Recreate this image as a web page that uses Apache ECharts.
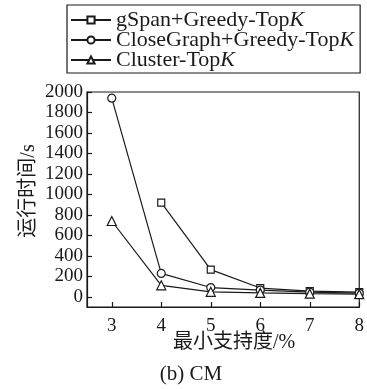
<!DOCTYPE html>
<html>
<head>
<meta charset="utf-8">
<script src="https://cdn.jsdelivr.net/npm/echarts@6/dist/echarts.min.js"></script>
<style>
  html, body { margin: 0; padding: 0; background: #fff; }
  #chart { width: 367px; height: 389px; }
</style>
</head>
<body>
<div id="chart"></div>
<script>
// Minimum support (%) on the x axis
const supports = [3, 4, 5, 6, 7, 8];
// Running time (s) of each method
const gspanGreedy = [null, 920, 265, 85, 55, 45];
const closeGraphGreedy = [1940, 228, 90, 65, 45, 35];
const clusterTopK = [740, 112, 48, 38, 30, 25];
const yTicks = [0, 200, 400, 600, 800, 1000, 1200, 1400, 1600, 1800, 2000];
const seriesNames = ['gSpan+Greedy-TopK', 'CloseGraph+Greedy-TopK', 'Cluster-TopK'];

const FONT = '"Liberation Serif", "DejaVu Serif", "Noto Sans CJK SC", serif';
const INK = '#1a1a1a';

const pairs = vals => supports.map((s, i) => [s, vals[i]]);

function lineSeries(name, vals, symbol, size) {
  return {
    name: name,
    type: 'line',
    data: pairs(vals),
    symbol: symbol,
    symbolSize: size,
    showAllSymbol: true,
    lineStyle: { color: INK, width: 1.2 },
    itemStyle: { color: '#fff', borderColor: INK, borderWidth: 1.2 },
    emphasis: { disabled: true },
    connectNulls: false,
    animation: false
  };
}

const chart = echarts.init(document.getElementById('chart'), null, { renderer: 'canvas' });

chart.setOption({
  backgroundColor: '#fff',
  animation: false,
  grid: { left: 87, top: 92, right: 4, bottom: 82, containLabel: false,
          show: true, borderColor: INK, borderWidth: 1.2 },
  legend: {
    orient: 'vertical',
    left: 67,
    top: 5,
    padding: [4, 6, 2, 3],
    itemGap: -2,
    itemWidth: 40,
    itemHeight: 9,
    borderColor: INK,
    borderWidth: 1.2,
    data: seriesNames,
    formatter: n => '{r|' + n.replace(/K$/, '') + '}{k|K}',
    textStyle: {
      rich: {
        r: { fontFamily: FONT, fontSize: 22, lineHeight: 20, color: INK },
        k: { fontFamily: FONT, fontSize: 22, lineHeight: 20, color: INK, fontStyle: 'italic' }
      }
    }
  },
  xAxis: {
    type: 'value',
    min: 2.5,
    max: 8,
    axisLine: { show: true, onZero: false, lineStyle: { color: INK, width: 1.2 } },
    axisTick: { show: true, inside: true, length: 5, customValues: supports,
                lineStyle: { color: INK, width: 1.2 } },
    axisLabel: { customValues: supports, fontFamily: FONT, fontSize: 19, color: INK, margin: 10,
                 formatter: v => String(v) },
    splitLine: { show: false }
  },
  yAxis: {
    type: 'value',
    min: -100,
    max: 2000,
    axisLine: { show: true, onZero: false, lineStyle: { color: INK, width: 1.2 } },
    axisTick: { show: true, inside: true, length: 5, customValues: yTicks,
                lineStyle: { color: INK, width: 1.2 } },
    axisLabel: { customValues: yTicks, fontFamily: FONT, fontSize: 19, color: INK, margin: 4,
                 formatter: v => String(v) },
    splitLine: { show: false }
  },
  series: [
    lineSeries(seriesNames[0], gspanGreedy, 'rect', 7),
    lineSeries(seriesNames[1], closeGraphGreedy, 'circle', 8),
    lineSeries(seriesNames[2], clusterTopK, 'triangle', 9)
  ],
  graphic: [
    { type: 'text', x: 29, y: 191, rotation: Math.PI / 2,
      style: { text: '运行时间/s', font: '20px ' + FONT, fill: INK,
               textAlign: 'center', textVerticalAlign: 'middle' } },
    { type: 'text', x: 234, y: 343,
      style: { text: '最小支持度/%', font: '20px ' + FONT, fill: INK,
               textAlign: 'center', textVerticalAlign: 'middle' } },
    { type: 'text', x: 191, y: 374,
      style: { text: '(b) CM', font: '21px ' + FONT, fill: INK,
               textAlign: 'center', textVerticalAlign: 'middle' } }
  ]
});
</script>
</body>
</html>
